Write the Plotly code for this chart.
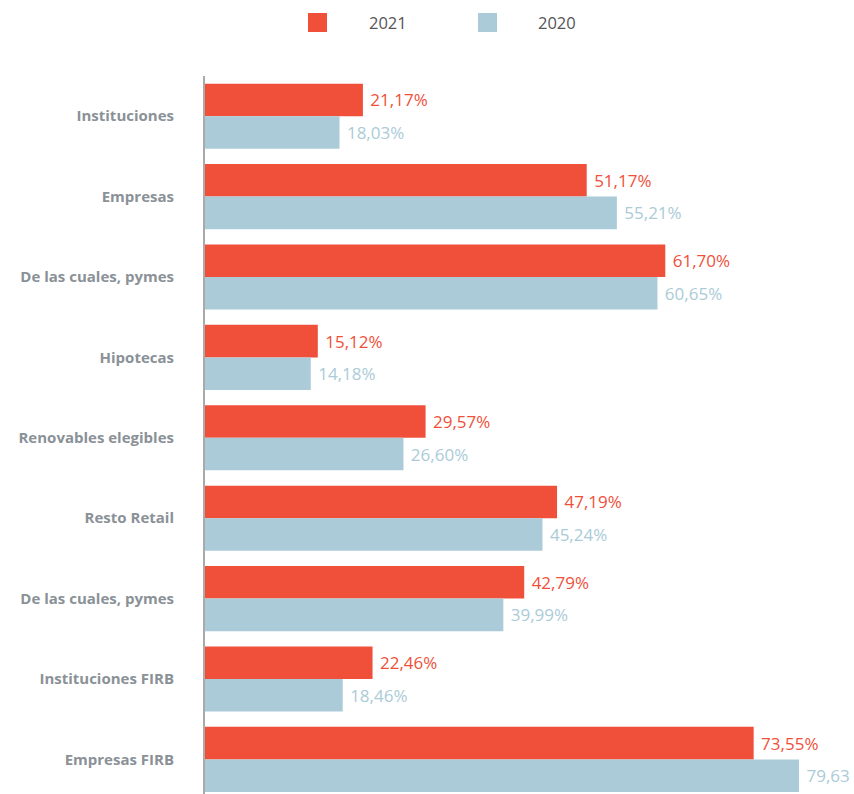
import plotly.graph_objects as go

categories = ["Instituciones", "Empresas", "De las cuales, pymes", "Hipotecas",
              "Renovables elegibles", "Resto Retail", "De las cuales, pymes",
              "Instituciones FIRB", "Empresas FIRB"]
values_2021 = [21.17, 51.17, 61.70, 15.12, 29.57, 47.19, 42.79, 22.46, 73.55]
values_2020 = [18.03, 55.21, 60.65, 14.18, 26.60, 45.24, 39.99, 18.46, 79.63]
# labels as printed in the reference (the last one is shown without "%")
labels_2021 = ["21,17%", "51,17%", "61,70%", "15,12%", "29,57%", "47,19%", "42,79%", "22,46%", "73,55%"]
labels_2020 = ["18,03%", "55,21%", "60,65%", "14,18%", "26,60%", "45,24%", "39,99%", "18,46%", "79,63"]
series_names = ["2021", "2020"]

RED = "#f0503a"
BLUE = "#aacbd7"
FONT = "Open Sans"

W, H = 854, 794
L, R, T, B = 205, 0, 76, 0
PW, PH = W - L - R, H - T - B

positions = list(range(len(categories)))

fig = go.Figure()
for name, vals, labs, col in [(series_names[0], values_2021, labels_2021, RED),
                              (series_names[1], values_2020, labels_2020, BLUE)]:
    fig.add_trace(go.Bar(
        y=positions, x=vals, orientation="h", name=name,
        marker=dict(color=col, line=dict(width=0)),
        text=[" " + t for t in labs], textposition="outside",
        textfont=dict(family=FONT, size=17, color=col),
        constraintext="none", cliponaxis=False, showlegend=False,
    ))

px_per_unit = 7.46
cat_px = 80.4
fig.update_layout(
    width=W, height=H,
    margin=dict(l=L, r=R, t=T, b=B, pad=0),
    paper_bgcolor="white", plot_bgcolor="white",
    barmode="group", bargap=0.19, bargroupgap=0,
    font=dict(family=FONT),
    xaxis=dict(range=[0, PW / px_per_unit], showgrid=False, zeroline=False,
               showticklabels=False, showline=False, fixedrange=True),
    yaxis=dict(range=[-0.5 + PH / cat_px, -0.5], tickmode="array",
               tickvals=positions, ticktext=categories,
               showgrid=False, zeroline=False,
               showline=True, linecolor="#aaaaaa", linewidth=2,
               ticks="", ticklabelstandoff=26,
               tickfont=dict(family=FONT, size=15, color="#8a9197", weight="bold")),
)


def pxx(x):
    return (x - L) / PW


def pxy(y):
    return 1 - (y - T) / PH


legend_items = [(series_names[0], RED, 308, 367), (series_names[1], BLUE, 478, 536)]
for name, col, sx, tx in legend_items:
    fig.add_shape(type="rect", xref="paper", yref="paper",
                  x0=pxx(sx), x1=pxx(sx + 19), y0=pxy(32), y1=pxy(13),
                  fillcolor=col, line=dict(width=0))
    fig.add_annotation(xref="paper", yref="paper", x=pxx(tx), y=pxy(22.5),
                       xanchor="left", yanchor="middle", text=name, showarrow=False,
                       font=dict(family=FONT, size=16.5, color="#555555"))

fig.write_html("out.html")
